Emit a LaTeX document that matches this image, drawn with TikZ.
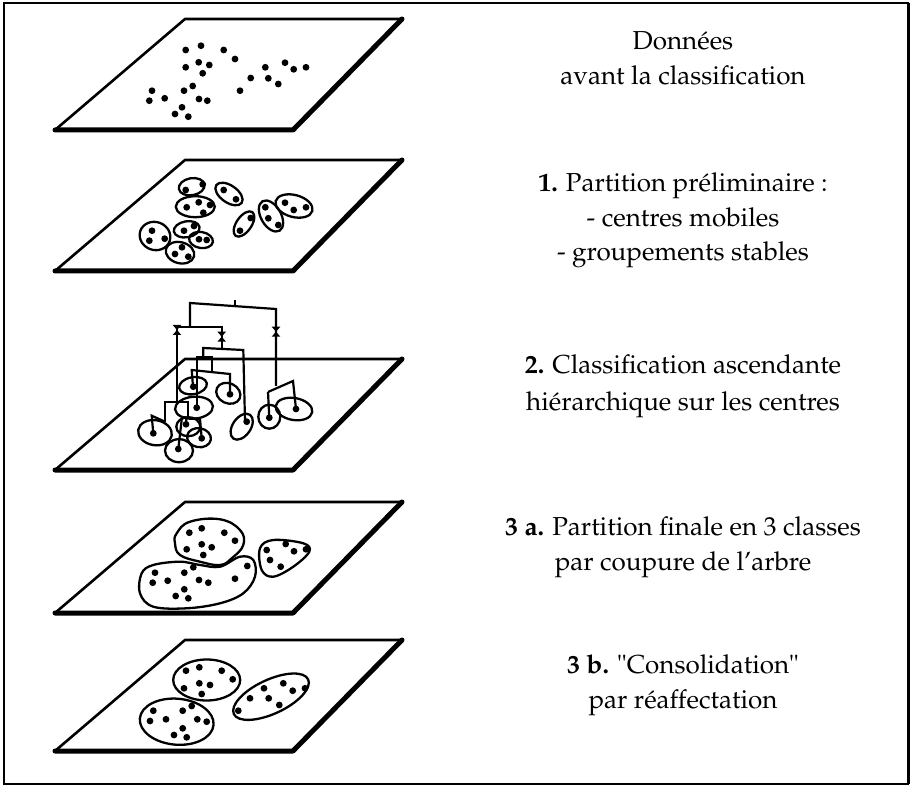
\documentclass[tikz,border=0pt]{standalone}
\usepackage[T1]{fontenc}
\usepackage{mathpazo}
\tikzset{
  planeedge/.style={line width=2.6pt,line join=round},
  shadowedge/.style={line width=5pt,line cap=round,line join=round},
  blobline/.style={line width=2.3pt},
  treeline/.style={line width=2.2pt,line join=miter},
  label/.style={anchor=base,inner sep=0pt,font=\fontsize{26}{35}\selectfont},
}
\newcommand\myplane[1]{%
  \draw[planeedge] (185,#1)--(402,#1)--(293,#1+111)--(55,#1+111)--cycle;
  \draw[shadowedge] (402,#1)--(293,#1+111)--(55,#1+111);
}
\newcommand\myblob[5]{%
  \draw[blobline,shift={(#1,#2)},rotate=-#5] (0,0) ellipse [x radius=#3,y radius=#4];
}
\newcommand\mydots[1]{%
  \foreach \px/\py in {#1} {\fill (\px,\py) circle[radius=3.4];}
}
\newcommand\myx[2]{%
  \fill (#1-4.3,#2-5)--(#1+4.3,#2-5)--(#1-4.3,#2+5)--(#1+4.3,#2+5)--cycle;
}
\begin{document}
\begin{tikzpicture}[x=1pt,y=-1pt]
\useasboundingbox (0,0) rectangle (911,786);
% frame
\draw[line width=2pt] (4,3) rectangle (908,784);
\draw[line width=3pt] (908,3)--(908,784);

% ---------- plane 1 ----------
\myplane{19}
\mydots{185.7/50,201/45.7,223.7/50,235/59,185.7/67.3,198.7/62.3,209.3/65,202.7/73.3,
152/90.7,149.3/100.7,164.7/98.3,184/90.7,192.7/86,199/99,207.3/100.7,182/107.3,175/114,188.3/116.7,
240/90.7,250.7/78,265.3/67.3,268.3/78.3,278.3/84,285/62.7,293.7/69.3,306/67.3}

% ---------- plane 2 ----------
\myplane{160}
\myblob{191.7}{186.7}{13}{8.5}{-10}
\myblob{195.3}{206.7}{19.5}{10.5}{0}
\myblob{229}{194}{15.5}{8.5}{35}
\myblob{155}{236}{15.5}{14}{20}
\myblob{186.7}{229.3}{13}{8}{-10}
\myblob{201}{240}{12}{8}{10}
\myblob{180}{252.7}{14.5}{10.5}{15}
\myblob{244}{224}{14.5}{7.5}{-55}
\myblob{271}{216}{17}{10}{60}
\myblob{294}{206}{19}{11}{15}
\mydots{185.7/190,202.7/184.3,186.7/207.3,198.7/202.3,210/205,203.3/212.7,
223.7/190,236/199.3,152/230.7,149.3/240.7,164.7/238.7,184/230.7,194/226,
199/239.3,206.7/240,182/247.3,175/254,188.3/256.7,250.7/218,240/230.7,
265.3/207.3,268.3/218.3,278.3/225,285/202.7,293.7/210,306/207.3}

% ---------- plane 3 ----------
\myplane{359}
\myblob{193}{385.7}{14}{8.5}{-10}
\myblob{228.3}{393.3}{12.5}{10}{25}
\myblob{194}{407.7}{19}{11}{-5}
\myblob{188.3}{426.7}{12}{9.5}{0}
\myblob{199}{437.7}{12}{9.5}{10}
\myblob{155}{432.7}{17}{12.5}{10}
\myblob{179}{450.7}{14}{11.5}{0}
\myblob{241.7}{426.7}{14.5}{9}{-55}
\myblob{269.3}{416.7}{11}{12}{0}
\myblob{294}{409}{18.5}{11}{10}
\mydots{193.3/386.7,230/394.3,196.7/407.7,186/424.3,201.7/438.3,153.3/433.3,
178.3/449,246.7/421.7,269.3/417.7,296/409}
% dendrogram
\draw[treeline] (190,327)--(190,303)--(276,309)--(276,386);
\draw[treeline] (235,300)--(235,305.6);
\draw[treeline] (268,392)--(293,381)--(296,409);
\draw[treeline] (268,392)--(269.3,417.7);
\draw[treeline] (177,402)--(177,327)--(221.7,327)--(221.7,348);
\draw[treeline] (203.3,357)--(203.3,348)--(243.3,350)--(245,421);
\draw[treeline] (196.7,407.7)--(196.7,357)--(211.7,357)--(211.7,371.5);
\draw[treeline] (193,386.7)--(191.7,370)--(230,374)--(230,394.3);
\draw[treeline] (165,421.7)--(165,401.7)--(188,401.7)--(188,417);
\draw[treeline] (165,421.7)--(151.7,415.7)--(153.3,433.3);
\draw[treeline] (178.3,449)--(182,417)--(200,419)--(201.7,438.3);
\draw[treeline] (186,424.3)--(186.5,417.5);
\myx{177}{330}
\myx{221.7}{336.7}
\myx{276}{331.7}

% ---------- plane 4 ----------
\myplane{502}
\draw[blobline] plot[smooth cycle,tension=0.7] coordinates {(176.7,533.3)(190,521.7)(220,519.3)(240,530)(243.3,545)(231.7,558.3)(220,565)(200,561.7)(180,555)(175,543.3)};
\draw[blobline] plot[smooth cycle,tension=0.6] coordinates {(141.7,573.3)(153.3,565)(180,561.7)(200,565)(220,566.7)(240,556.7)(253.3,560)(255,576.7)(243.3,593.3)(220,603.3)(186.7,608.3)(153.3,606.7)(140,593.3)};
\draw[blobline] plot[smooth cycle,tension=0.6] coordinates {(260,548.3)(273.3,540)(303.3,543.3)(309.3,551.7)(293.3,566.7)(273.3,576.7)(261.7,570)};
\mydots{189.3/532.7,201.7/528.3,224.3/532.7,235/540.7,186.7/549.3,201.7/544.3,211.7/547.3,203.3/555,
155/572.7,152.7/582.7,167.7/580.7,184.3/572.7,193.3/567.3,199/580,208.3/582.7,184.3/589.3,175.7/596,188.3/598.3,235/578.7,247.3/566,
266.7/550,285.7/544,294/551.3,306/549.3,270/560,280.7/566.7}

% ---------- plane 5 ----------
\myplane{640}
\myblob{206.7}{680}{33.5}{20.5}{0}
\myblob{176.7}{721.7}{37}{23}{5}
\myblob{271}{696.7}{41}{17}{-25}
\mydots{186/670.7,199.3/667.3,221.7/670.7,232.7/679.3,184/688.3,199.3/683.3,210/685,201.7/694,
153.3/710.7,150/721,166/719.3,182.7/710.7,191.7/706,197.3/719.3,206.7/721.7,182.7/728.3,174/735,186.7/737.3,
238.3/710.7,250/698.3,264/688.3,268.7/698.3,279.3/705,283.3/683.3,292.7/690.7,305/688.3}

% ---------- labels ----------
\node[label] (t0a) at (683,50) {Donn\'ees};
\node[label] (t0b) at (683,85) {avant la classification};
\node[label] (t1a) at (683,192) {\textbf{1.} Partition pr\'eliminaire :};
\node[label] (t1b) at (683,227) {- centres mobiles};
\node[label] (t1c) at (683,261) {- groupements stables};
\node[label] (t2a) at (683,374) {\textbf{2.} Classification ascendante};
\node[label] (t2b) at (683,410) {hi\'erarchique sur les centres};
\node[label] (t3a) at (683,535) {\textbf{3 a.} Partition finale en 3 classes};
\node[label] (t3b) at (683,570) {par coupure de l'arbre};
\node[label] (t4a) at (683,673) {\textbf{3 b.} "Consolidation"};
\node[label] (t4b) at (683,708) {par r\'eaffectation};
\end{tikzpicture}
\end{document}
